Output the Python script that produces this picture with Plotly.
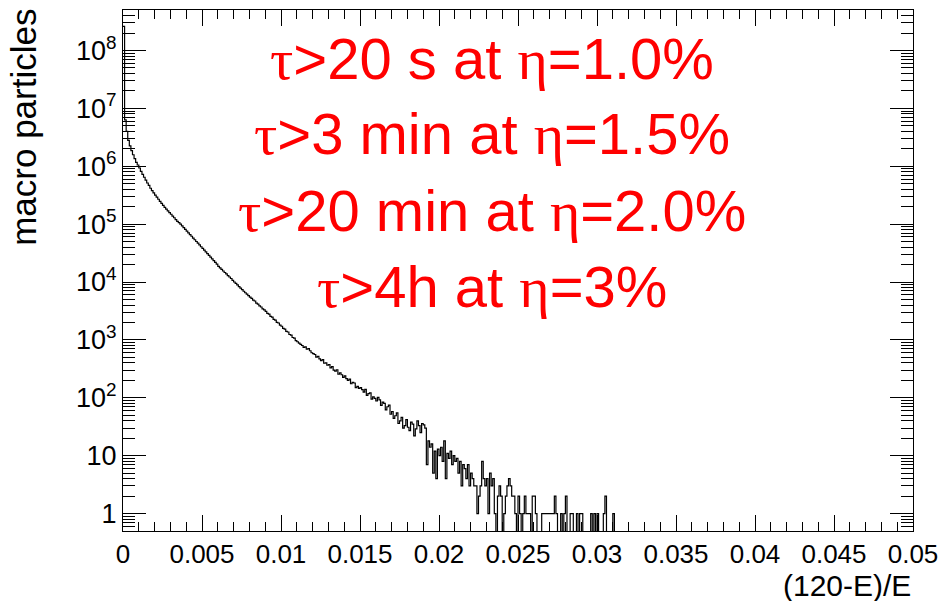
import math
import plotly.graph_objects as go

# ---------------- data ----------------
bin_width = 0.0001          # histogram bin width in (120-E)/E
x_max = 0.05
y_min, y_max = 0.5, 5e8

counts = [
    260000000,
    6300000, 4000000, 2800000, 2240000, 1860000, 1580000, 1350000, 1170000, 1050000,
    933000, 813000, 724000, 646000, 575000, 513000, 468000, 417000, 380000, 347000,
    316000, 292000, 269000, 248000, 229000, 211000, 195000, 182000, 170000, 158000,
    148000, 138000, 129000, 120000, 112000, 106000, 100000, 93300, 87100, 81300,
    75900, 70800, 66100, 61700, 57500, 53700, 50100, 46800, 43700, 40700,
    38000, 35500, 33100, 30900, 28800, 26900, 25100, 23400, 21900, 20400,
    18600, 17600, 16600, 15500, 14600, 13800, 12900, 12200, 11500, 10700,
    10000, 9440, 8910, 8320, 7850, 7410, 6920, 6530, 6170, 5820,
    5500, 5230, 4860, 4700, 4330, 4150, 3860, 3700, 3440, 3290,
    3120, 2880, 2790, 2540, 2480, 2260, 2190, 2010, 1960, 1800,
    1720, 1580, 1530, 1400, 1370, 1240, 1210, 1100, 1070, 975,
    930, 880, 835, 800, 745, 760, 690, 705, 650, 600,
    580, 560, 505, 520, 470, 440, 455, 395, 400, 365,
    375, 330, 345, 300, 290, 305, 255, 270, 250, 225,
    240, 215, 200, 210, 175, 185, 180, 150, 158, 145,
    150, 138, 125, 140, 110, 118, 122, 95, 104, 98,
    88, 102, 92, 74, 84, 80, 62, 70, 75, 52,
    58, 44, 49, 55, 36, 40, 46, 30, 33, 42,
    31, 27, 38, 35, 22, 29, 40, 33, 25, 36,
    34, 30, 7, 18, 14, 16, 5, 12, 4, 13,
    10, 14, 8, 18, 4, 11, 9, 12, 7, 10,
    8, 9, 5, 8, 3, 7, 6, 4, 7, 3,
    5, 4, 3, 3, 1, 2, 3, 8, 4, 3,
    4, 1, 5, 3, 4, 1, 0, 2, 3, 2,
    0, 1, 2, 3, 4, 3, 2, 2, 1, 0,
    2, 1, 0, 1, 2, 1, 1, 1, 0, 2,
    2, 1, 0, 0, 0, 1, 1, 1, 1, 1,
    1, 1, 1, 2, 1, 0, 0, 1, 0, 1,
    2, 0, 0, 1, 1, 0, 0, 1, 0, 1,
    1, 0, 0, 0, 0, 0, 1, 0, 1, 0,
    1, 0, 0, 0, 1, 2, 0, 0, 0, 0,
    1,
]

y_tick_vals = [1, 10, 1e2, 1e3, 1e4, 1e5, 1e6, 1e7, 1e8]
y_tick_text = ["1", "10", "10<sup>2</sup>", "10<sup>3</sup>", "10<sup>4</sup>",
               "10<sup>5</sup>", "10<sup>6</sup>", "10<sup>7</sup>", "10<sup>8</sup>"]

x_title = "(120-E)/E"
y_title = "macro particles"

SERIF = '<span style="font-family:Liberation Serif">'
lines = [
    SERIF + "τ</span>&gt;20 s at " + SERIF + "η</span>=1.0%",
    SERIF + "τ</span>&gt;3 min at " + SERIF + "η</span>=1.5%",
    SERIF + "τ</span>&gt;20 min at " + SERIF + "η</span>=2.0%",
    SERIF + "τ</span>&gt;4h at " + SERIF + "η</span>=3%",
]

# ---------------- build step outline ----------------
n = len(counts)
edges = [i * bin_width for i in range(n + 1)]
below = 1e-3  # empty bins drop below the axis (clipped), as ROOT does
ys = [c if c > 0 else below for c in counts]
sx = edges[:-1] + [edges[-1], edges[-1]]
sy = ys + [ys[-1], below]

fig = go.Figure()
fig.add_trace(go.Scatter(
    x=sx, y=sy, mode="lines", line=dict(shape="hv", color="black", width=1.2),
    hoverinfo="skip", showlegend=False,
))

FONT = "Liberation Sans, Arial, sans-serif"
fig.update_layout(
    width=940, height=601,
    margin=dict(l=123, r=27, t=10, b=70, autoexpand=False),
    paper_bgcolor="white", plot_bgcolor="white",
    font=dict(family=FONT, color="black"),
    showlegend=False,
)
fig.update_xaxes(
    range=[0, x_max], tick0=0, dtick=0.005, automargin=False,
    ticks="inside", ticklen=16, tickwidth=1, tickcolor="black",
    minor=dict(dtick=0.001, ticks="inside", ticklen=9, tickwidth=1, tickcolor="black"),
    showline=True, linecolor="black", linewidth=1, mirror="allticks",
    showgrid=False, zeroline=False,
    tickfont=dict(size=26, family=FONT, color="black"),
)
fig.update_yaxes(
    type="log", range=[math.log10(y_min), math.log10(y_max)], automargin=False,
    tickmode="array", tickvals=y_tick_vals, ticktext=y_tick_text,
    ticks="inside", ticklen=23, tickwidth=1, tickcolor="black",
    minor=dict(dtick="D1", ticks="inside", ticklen=12, tickwidth=1, tickcolor="black"),
    showline=True, linecolor="black", linewidth=1, mirror="allticks",
    showgrid=False, zeroline=False,
    tickfont=dict(size=27, family=FONT, color="black"),
)

annotations = []
line_y = [59, 134, 211, 287]  # vertical centres of text lines (px from top)
plot_top, plot_h = 10, 520.7
for txt, yp in zip(lines, line_y):
    annotations.append(dict(
        text=txt, xref="paper", yref="paper", x=0.4674, y=(plot_top + plot_h - yp) / plot_h,
        xanchor="center", yanchor="middle", showarrow=False,
        font=dict(size=58, color="#ff0000", family=FONT),
    ))
annotations.append(dict(
    text=x_title, xref="paper", yref="paper", x=1.0, y=-0.104,
    xanchor="right", yanchor="middle", showarrow=False,
    font=dict(size=30, color="black", family=FONT),
))
annotations.append(dict(
    text=y_title, xref="paper", yref="paper", x=-0.126, y=1.006,
    xanchor="center", yanchor="top", textangle=-90, showarrow=False,
    font=dict(size=35, color="black", family=FONT),
))
fig.update_layout(annotations=annotations)

fig.write_html(
    "out.html",
    config={"displayModeBar": False},
    post_script="document.body.style.margin='0px';document.body.style.overflow='hidden';",
)
